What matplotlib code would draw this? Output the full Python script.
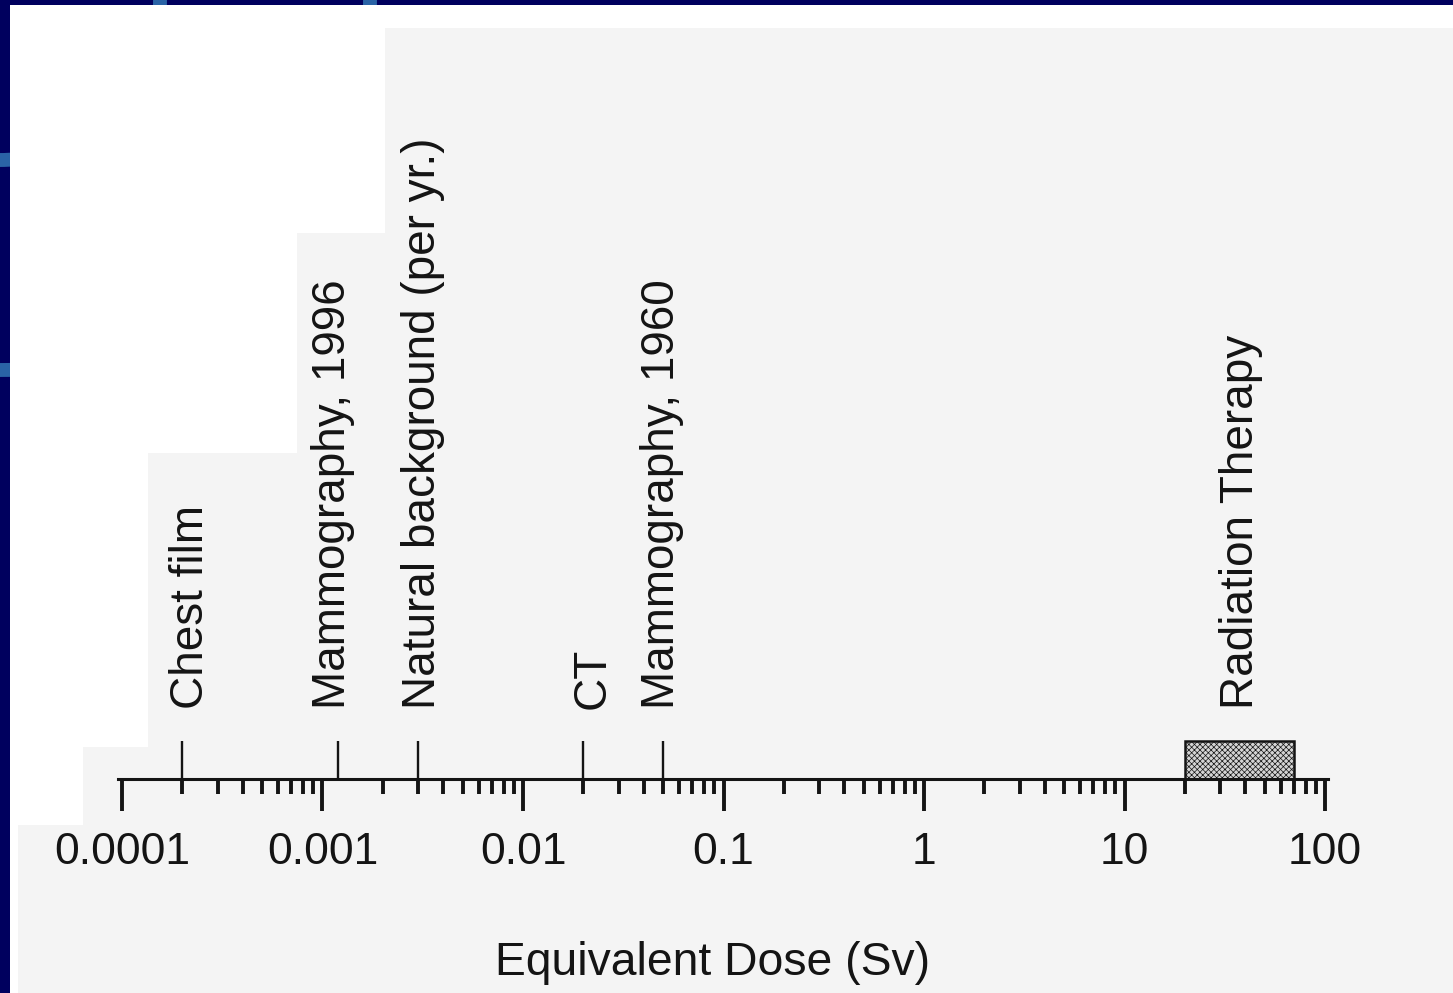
import numpy as np
from matplotlib import pyplot as plt
from matplotlib.patches import Rectangle, Polygon, Circle
from matplotlib.ticker import LogLocator, NullFormatter

plt.rcParams['font.family'] = ['Liberation Sans', 'DejaVu Sans']
plt.rcParams['hatch.color'] = '#7a7a7a'
plt.rcParams['hatch.linewidth'] = 0.5

# data (dose in Sv)
tick_values = [1e-4, 1e-3, 1e-2, 1e-1, 1, 10, 100]
tick_labels = ['0.0001', '0.001', '0.01', '0.1', '1', '10', '100']
marker_names = ['Chest film', 'Mammography, 1996', 'Natural background (per yr.)', 'CT', 'Mammography, 1960']
marker_doses = [0.0002, 0.0012, 0.003, 0.02, 0.05]
therapy_name = 'Radiation Therapy'
therapy_range = [20, 70]

# small sideways nudges for the rotated labels (points)
label_nudge = {'Chest film': 15, 'Mammography, 1996': 5, 'Natural background (per yr.)': 12,
               'CT': 15, 'Mammography, 1960': 8, 'Radiation Therapy': 10}

W, H = 1453, 993
ink = '#141414'
fig = plt.figure(figsize=(W / 100, H / 100), dpi=100, facecolor='#00005e')

# slide background: navy frame, blue arcs, scanned page
bg = fig.add_axes([0, 0, 1, 1], zorder=-10)
bg.set_xlim(0, W)
bg.set_ylim(H, 0)
bg.axis('off')
for r in [160, 370]:
    bg.add_patch(Circle((0, 0), r, fill=False, ec='#2a63a6', lw=10))
bg.add_patch(Circle((1700, -250), 300, fill=False, ec='#2a63a6', lw=10))
bg.add_patch(Rectangle((10, 5), W - 10, H - 5, fc='white', ec='none'))
stairs = [(385, 28), (W, 28), (W, H), (18, H), (18, 825), (83, 825), (83, 747),
          (148, 747), (148, 453), (297, 453), (297, 233), (385, 233)]
bg.add_patch(Polygon(stairs, closed=True, fc='#f4f4f4', ec='none'))

# main log axis
x0, x1, y_axis, y_top = 118, 1328, 779, 30
ax = fig.add_axes([x0 / W, (H - y_axis) / H, (x1 - x0) / W, (y_axis - y_top) / H])
ax.set_facecolor('none')
ax.set_xscale('log')
px_dec = (1325 - 122) / 6
ax.set_xlim(10 ** (-4 - (122 - x0) / px_dec), 10 ** (-4 + (x1 - 122) / px_dec))
ax.set_ylim(0, 1)
for s in ['left', 'right', 'top']:
    ax.spines[s].set_visible(False)
ax.spines['bottom'].set_linewidth(2.2)
ax.spines['bottom'].set_color(ink)
ax.set_yticks([])

ax.set_xticks(tick_values, tick_labels)
ax.xaxis.set_minor_locator(LogLocator(base=10, subs=np.arange(2, 10), numticks=20))
ax.xaxis.set_minor_formatter(NullFormatter())
ax.tick_params(axis='x', which='major', direction='out', length=23, width=2.8,
               color=ink, labelsize=32, labelcolor=ink, pad=15)
ax.tick_params(axis='x', which='minor', direction='out', length=10.5, width=2.8, color=ink)
ax.set_xlabel('Equivalent Dose (Sv)', fontsize=33.3, color=ink, labelpad=49)
ax.xaxis.label.set_x((713 - x0) / (x1 - x0))

mark_h = 38 / (y_axis - y_top)
text_y = (y_axis - 709) / (y_axis - y_top)

ax.vlines(marker_doses, 0, mark_h, colors=ink, lw=1.7)
for name, dose in zip(marker_names, marker_doses):
    ax.annotate(name, xy=(dose, text_y), xytext=(label_nudge[name], 0), textcoords='offset points',
                rotation=90, rotation_mode='anchor', ha='left', va='baseline',
                fontsize=33, color=ink)

ax.add_patch(Rectangle((therapy_range[0], 0), therapy_range[1] - therapy_range[0], mark_h,
                       fc='#d4d4d4', ec=ink, lw=1.8, hatch='xxxxxx', clip_on=False))
ax.annotate(therapy_name, xy=(np.sqrt(therapy_range[0] * therapy_range[1]), text_y),
            xytext=(label_nudge[therapy_name], 0), textcoords='offset points',
            rotation=90, rotation_mode='anchor', ha='left', va='baseline',
            fontsize=33, color=ink)

fig.savefig('out.png', dpi=100, facecolor=fig.get_facecolor())
